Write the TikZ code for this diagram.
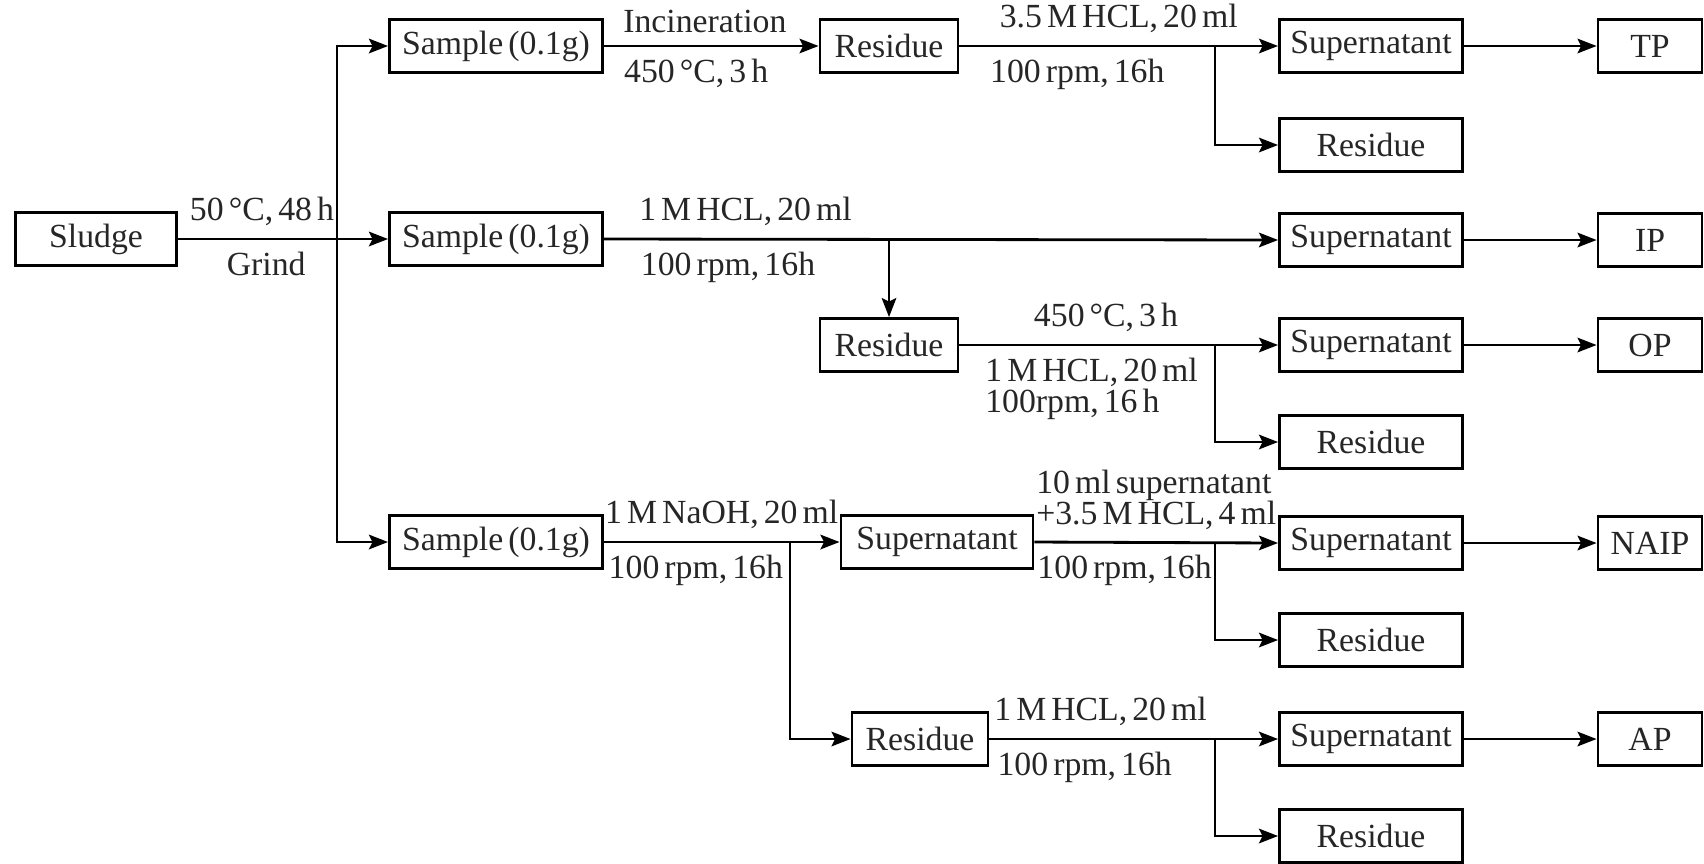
\documentclass[tikz,border=0pt]{standalone}
\usepackage{fontspec}
\setmainfont{Liberation Serif}[WordSpace=0.6]
\usetikzlibrary{arrows.meta}

\tikzstyle{block} = [rectangle, minimum height=0.53cm, inner sep=0pt, text centered, draw=black, line width=0.8pt]
\tikzstyle{probe} = [block, minimum width=2.13cm]
\tikzstyle{rest} = [block, minimum width=1.38cm]
\tikzstyle{ueberstand} = [block, minimum width=1.83cm]
\tikzstyle{fraktion} = [block, minimum width=1.04cm]

\begin{document}
\begin{tikzpicture}[x=0.01cm, y=-0.01cm, line width=0.8pt, text=black!85, font=\fontsize{9.6}{8.8}\selectfont,
	>={Stealth[length=1.9mm, width=1.45mm, inset=0.35mm]}]
	\useasboundingbox (0,0) rectangle (1704,863);

	\node (sludge)   [block, minimum width=1.61cm] at (96,239) {Sludge};
	\node (sampleA)  [probe] at (496,46)  {Sample (0.1g)};
	\node (sampleB)  [probe] at (496,239) {Sample (0.1g)};
	\node (sampleC)  [probe] at (496,542) {Sample (0.1g)};
	\coordinate (split) at (337,239);

	\node (residueA) [rest] at (889,46)  {Residue};
	\node (residueB) [rest] at (889,345) {Residue};
	\node (superD)   [ueberstand, minimum width=1.92cm] at (937,542) {Supernatant};
	\node (residueD) [rest, minimum width=1.36cm] at (920,739) {Residue};

	\node (superA)   [ueberstand] at (1371,46)  {Supernatant};
	\node (restA)    [ueberstand] at (1371,145) {Residue};
	\node (superB)   [ueberstand] at (1371,240) {Supernatant};
	\node (superC)   [ueberstand] at (1371,345) {Supernatant};
	\node (restC)    [ueberstand] at (1371,442) {Residue};
	\node (superE)   [ueberstand] at (1371,543) {Supernatant};
	\node (restE)    [ueberstand] at (1371,640) {Residue};
	\node (superF)   [ueberstand] at (1371,739) {Supernatant};
	\node (restF)    [ueberstand] at (1371,836) {Residue};

	\node (tp)   [fraktion] at (1650,46)  {TP};
	\node (ip)   [fraktion] at (1650,240) {IP};
	\node (op)   [fraktion] at (1650,345) {OP};
	\node (naip) [fraktion] at (1650,543) {NAIP};
	\node (ap)   [fraktion] at (1650,739) {AP};

	\coordinate (forkA) at (1215,46);
	\coordinate (forkB) at (889,240);
	\coordinate (forkC) at (1215,345);
	\coordinate (forkD) at (790,542);
	\coordinate (forkE) at (1215,543);
	\coordinate (forkF) at (1215,739);

	\draw[->] (sludge) -- node[pos=0.4, above] {50 °C, 48 h} node[pos=0.42, below] {Grind} (sampleB);
	\draw[->] (split) |- (sampleA);
	\draw[->] (split) |- (sampleC);

	\draw[->] (sampleA) -- node[pos=0.47, above] {Incineration} node[pos=0.43, below] {450 °C, 3 h} (residueA);
	\draw[->] (residueA) -- node[pos=0.5, above] {3.5 M HCL, 20 ml} node[pos=0.37, below] {100 rpm, 16h} (superA);
	\draw[->] (forkA) |- (restA);
	\draw[->] (superA) -- (tp);

	\draw[->] (sampleB.east) -- node[pos=0.21, above] {1 M HCL, 20 ml} node[pos=0.184, below] {100 rpm, 16h} (superB.west);
	\draw[->] (forkB) -- (residueB);
	\draw[->] (superB) -- (ip);

	\draw[->] (residueB) -- node[pos=0.46, above] {450 °C, 3 h} node[pos=0.04, below right, align=left] {1 M HCL, 20 ml\\100rpm, 16 h} (superC);
	\draw[->] (forkC) |- (restC);
	\draw[->] (superC) -- (op);

	\draw[->] (sampleC) -- node[pos=0.5, above] {1 M NaOH, 20 ml} node[pos=0.39, below] {100 rpm, 16h} (superD);
	\draw[->] (forkD) |- (residueD);
	\draw[->] (superD.east) -- node[pos=0.5, above, align=left] {10 ml supernatant\\+3.5 M HCL, 4 ml} node[pos=0.37, below] {100 rpm, 16h} (superE.west);
	\draw[->] (forkE) |- (restE);
	\draw[->] (superE) -- (naip);

	\draw[->] (residueD.east) -- node[pos=0.385, above] {1 M HCL, 20 ml} node[pos=0.33, below] {100 rpm, 16h} (superF.west);
	\draw[->] (forkF) |- (restF);
	\draw[->] (superF) -- (ap);
\end{tikzpicture}
\end{document}
